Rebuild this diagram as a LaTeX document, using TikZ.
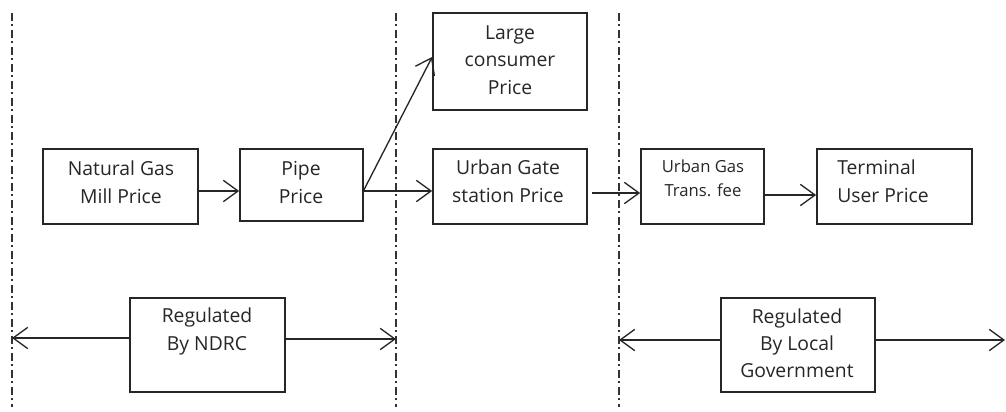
\documentclass[tikz,border=0pt]{standalone}
\usepackage{fontspec}
\setmainfont{Open Sans}
\usetikzlibrary{arrows.meta}
\newlength\pxu
\setlength\pxu{0.75pt}
\begin{document}
\begin{tikzpicture}[x=0.75pt,y=-0.75pt,
  boxnode/.style={draw=black!85,line width=1.3pt,rectangle,inner sep=0pt,minimum width=#1},
  txt/.style={inner sep=0pt,align=center,anchor=base,text=black!85,font=\fontsize{14.5}{20.5}\selectfont},
  smalltxt/.style={inner sep=0pt,align=center,anchor=base,text=black!85,font=\fontsize{12.5}{18}\selectfont},
  arr/.style={draw=black!85,line width=1pt,-{Straight Barb[length=11pt,width=16pt,line width=1pt]}},
  divider/.style={draw=black!80,line width=0.8pt,dash pattern=on 6pt off 2.25pt on 1.5pt off 3pt}]
\useasboundingbox (0,0) rectangle (1006,411);
% dividers
\coordinate (d1t) at (12,13);   \coordinate (d1b) at (12,407);
\coordinate (d2t) at (396,13);  \coordinate (d2b) at (396,407);
\coordinate (d3t) at (619,13);  \coordinate (d3b) at (619,407);
\draw[divider] (d1t) -- (d1b);
\draw[divider] (d2t) -- (d2b);
\draw[divider] (d3t) -- (d3b);
% boxes
\node[boxnode=155\pxu,minimum height=75\pxu] (ng) at (120.5,186.5) {};
\node[boxnode=123\pxu,minimum height=72\pxu] (pipe) at (301.5,185) {};
\node[boxnode=154\pxu,minimum height=97\pxu] (large) at (510,61.5) {};
\node[boxnode=154\pxu,minimum height=75\pxu] (gate) at (510,186.5) {};
\node[boxnode=123\pxu,minimum height=75\pxu] (trans) at (702.5,186.5) {};
\node[boxnode=155\pxu,minimum height=75\pxu] (term) at (894.5,186.5) {};
\node[boxnode=155\pxu,minimum height=94\pxu] (ndrc) at (207.5,345) {};
\node[boxnode=154\pxu,minimum height=94\pxu] (local) at (798,345) {};
% texts (anchored at the baseline of the last line)
\node[txt] (tng) at (121,203) {Natural Gas\\Mill Price};
\node[txt] (tpipe) at (301,203) {Pipe\\Price};
\node[txt] (tlarge) at (510,94) {Large\\consumer\\Price};
\node[txt] (tgate) at (508,202) {Urban Gate\\station Price};
\node[smalltxt] (ttrans) at (703,196) {Urban Gas\\Trans. fee};
\node[txt,align=left,anchor=base west] (tterm) at (837,202) {Terminal\\User Price};
\node[txt] (tndrc) at (207,350) {Regulated\\By NDRC};
\node[txt,font=\fontsize{14.5}{20}\selectfont] (tlocal) at (797,377) {Regulated\\By Local\\Government};
% flow arrows
\draw[arr] ([yshift=-4.5\pxu]ng.east) -- ([yshift=-6\pxu]pipe.west);
\draw[arr] ([yshift=-6\pxu]pipe.east) -- ([yshift=-4.5\pxu]gate.west);
\draw[arr] ([yshift=-5\pxu]pipe.east) -- ([yshift=4.5\pxu]large.west);
\draw[arr] ([xshift=4\pxu,yshift=-6.5\pxu]gate.east) -- ([yshift=-6.5\pxu]trans.west);
\draw[arr] ([yshift=-8.5\pxu]trans.east) -- ([yshift=-8.5\pxu]term.west);
% regulation ranges
\coordinate (nl) at (12,338);
\coordinate (nr) at (396,339);
\coordinate (ll) at (619,340);
\coordinate (lr) at (1005,340);
\draw[arr] ([yshift=7\pxu]ndrc.west) -- (nl);
\draw[arr] ([yshift=6\pxu]ndrc.east) -- (nr);
\draw[arr] ([yshift=5\pxu]local.west) -- (ll);
\draw[arr] ([yshift=5\pxu]local.east) -- (lr);
\end{tikzpicture}
\end{document}
